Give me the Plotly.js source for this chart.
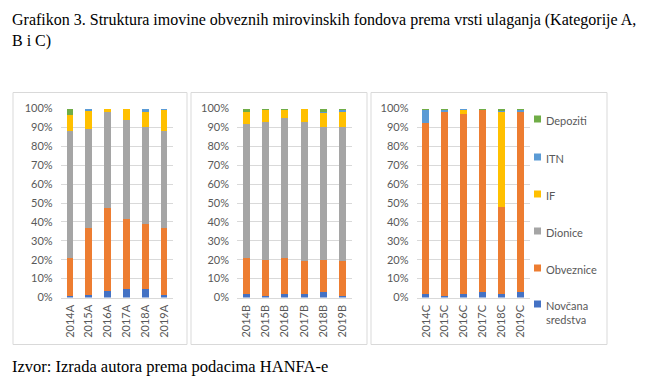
<!DOCTYPE html>
<html>
<head>
<meta charset="utf-8">
<script src="https://cdn.plot.ly/plotly-3.0.1.min.js"></script>
<style>html,body{margin:0;padding:0;background:#fff;}#chart{width:646px;height:379px;}</style>
</head>
<body>
<div id="chart"></div>
<script>
// Categories per panel
const catsA = ["2014A", "2015A", "2016A", "2017A", "2018A", "2019A"];
const catsB = ["2014B", "2015B", "2016B", "2017B", "2018B", "2019B"];
const catsC = ["2014C", "2015C", "2016C", "2017C", "2018C", "2019C"];

// Series names (stack order bottom -> top)
const seriesNames = ["Novčana sredstva", "Obveznice", "Dionice", "IF", "ITN", "Depoziti"];
const legendLabels = ["Novčana<br>sredstva", "Obveznice", "Dionice", "IF", "ITN", "Depoziti"];
const seriesColors = ["#4472C4", "#ED7D31", "#A5A5A5", "#FFC000", "#5B9BD5", "#70AD47"];

// Category A values (%)
const novcanaA   = [1.0, 1.5, 3.5, 4.6, 4.6, 1.2];
const obvezniceA = [20.0, 35.3, 43.8, 37.0, 34.4, 35.5];
const dioniceA   = [67.0, 52.5, 50.7, 52.5, 51.0, 51.6];
const ifA        = [8.3, 9.3, 2.0, 5.9, 8.2, 11.0];
const itnA       = [0.0, 1.4, 0.0, 0.0, 1.8, 0.7];
const depozitiA  = [3.7, 0.0, 0.0, 0.0, 0.0, 0.0];

// Category B values (%)
const novcanaB   = [1.8, 0.9, 1.8, 1.8, 3.0, 0.9];
const obvezniceB = [18.9, 18.9, 19.2, 17.5, 17.0, 18.2];
const dioniceB   = [71.3, 73.3, 74.2, 73.8, 70.1, 71.0];
const ifB        = [6.4, 6.2, 4.1, 6.4, 7.6, 8.3];
const itnB       = [0.0, 0.0, 0.0, 0.0, 0.7, 0.9];
const depozitiB  = [1.6, 0.7, 0.7, 0.5, 1.6, 0.7];

// Category C values (%)
const novcanaC   = [2.0, 1.0, 2.0, 3.0, 2.0, 3.0];
const obvezniceC = [90.4, 97.0, 95.0, 96.1, 46.0, 95.0];
const dioniceC   = [0.0, 0.0, 0.0, 0.0, 0.0, 0.0];
const ifC        = [0.0, 0.0, 2.0, 0.0, 50.0, 0.0];
const itnC       = [6.7, 1.0, 1.0, 0.0, 0.5, 1.0];
const depozitiC  = [0.9, 1.0, 0.0, 0.9, 1.5, 1.0];

// Tick values
const yTickVals = [0, 10, 20, 30, 40, 50, 60, 70, 80, 90, 100];
const yTickText = ["0%", "10%", "20%", "30%", "40%", "50%", "60%", "70%", "80%", "90%", "100%"];

const W = 646, H = 379;
const px = v => v / W;
const py = v => 1 - v / H;

const panels = [
  {cats: catsA, vals: [novcanaA, obvezniceA, dioniceA, ifA, itnA, depozitiA], xa: "x", ya: "y"},
  {cats: catsB, vals: [novcanaB, obvezniceB, dioniceB, ifB, itnB, depozitiB], xa: "x2", ya: "y2"},
  {cats: catsC, vals: [novcanaC, obvezniceC, dioniceC, ifC, itnC, depozitiC], xa: "x3", ya: "y3"}
];

const data = [];
panels.forEach(p => {
  seriesNames.forEach((name, i) => {
    data.push({
      type: "bar",
      x: p.cats,
      y: p.vals[i],
      name: name,
      xaxis: p.xa,
      yaxis: p.ya,
      marker: {color: seriesColors[i], line: {width: 0}},
      showlegend: false,
      hoverinfo: "x+y+name"
    });
  });
});

const tickFont = {family: "Lato, 'Liberation Sans', sans-serif", size: 11, color: "#595959"};
const yDomain = [py(297.5), py(108.5)];

function xAxis(domain, anchor) {
  return {
    domain: domain, anchor: anchor, type: "category",
    tickangle: -90, tickfont: tickFont, showgrid: false,
    showline: true, linecolor: "#d9d9d9", linewidth: 1,
    ticks: "", ticklabelstandoff: 2, fixedrange: true
  };
}
function yAxis(anchor) {
  return {
    domain: yDomain, anchor: anchor, range: [0, 100],
    tickvals: yTickVals, ticktext: yTickText, tickfont: tickFont,
    showgrid: true, gridcolor: "#d9d9d9", gridwidth: 1,
    zeroline: false, showline: false, ticks: "", ticklabelstandoff: 7, fixedrange: true
  };
}

const shapes = [];
// panel frames
[[13, 187], [191, 367], [371, 607]].forEach(b => {
  shapes.push({type: "rect", xref: "paper", yref: "paper",
    x0: px(b[0]), x1: px(b[1]), y0: py(344.5), y1: py(92.5),
    line: {color: "#d9d9d9", width: 1}, fillcolor: "rgba(0,0,0,0)"});
});

const serif = "'Liberation Serif', 'Times New Roman', serif";
const annotations = [
  {xref: "paper", yref: "paper", x: px(10), y: py(9), xanchor: "left", yanchor: "top", align: "left",
   showarrow: false,
   text: "Grafikon 3. Struktura imovine obveznih mirovinskih fondova prema vrsti ulaganja (Kategorije A,<br>B i C)",
   font: {family: serif, size: 16, color: "#000"}},
  {xref: "paper", yref: "paper", x: px(10), y: py(366), xanchor: "left", yanchor: "middle", align: "left",
   showarrow: false, text: "Izvor: Izrada autora prema podacima HANFA-e",
   font: {family: serif, size: 16.5, color: "#000"}}
];

// manual legend (top -> bottom: reversed stack order)
const legendY = [304, 268, 231, 194, 157, 119];
seriesNames.forEach((name, i) => {
  const yc = legendY[i];
  shapes.push({type: "rect", xref: "paper", yref: "paper",
    x0: px(534), x1: px(541), y0: py(yc + 3.5), y1: py(yc - 3.5),
    line: {width: 0}, fillcolor: seriesColors[i]});
  annotations.push({xref: "paper", yref: "paper", x: px(544), y: py(yc - 7),
    xanchor: "left", yanchor: "top", align: "left", showarrow: false,
    text: legendLabels[i], font: tickFont});
});

const layout = {
  width: W, height: H,
  margin: {l: 0, r: 0, t: 0, b: 0},
  paper_bgcolor: "#fff", plot_bgcolor: "rgba(0,0,0,0)",
  barmode: "stack", bargap: 0.63, showlegend: false,
  xaxis: xAxis([px(60.6), px(173.4)], "y"),
  yaxis: yAxis("x"),
  xaxis2: xAxis([px(237), px(352)], "y2"),
  yaxis2: yAxis("x2"),
  xaxis3: xAxis([px(416.5), px(530)], "y3"),
  yaxis3: yAxis("x3"),
  shapes: shapes,
  annotations: annotations
};

Plotly.newPlot("chart", data, layout, {displayModeBar: false, staticPlot: true});
</script>
</body>
</html>
